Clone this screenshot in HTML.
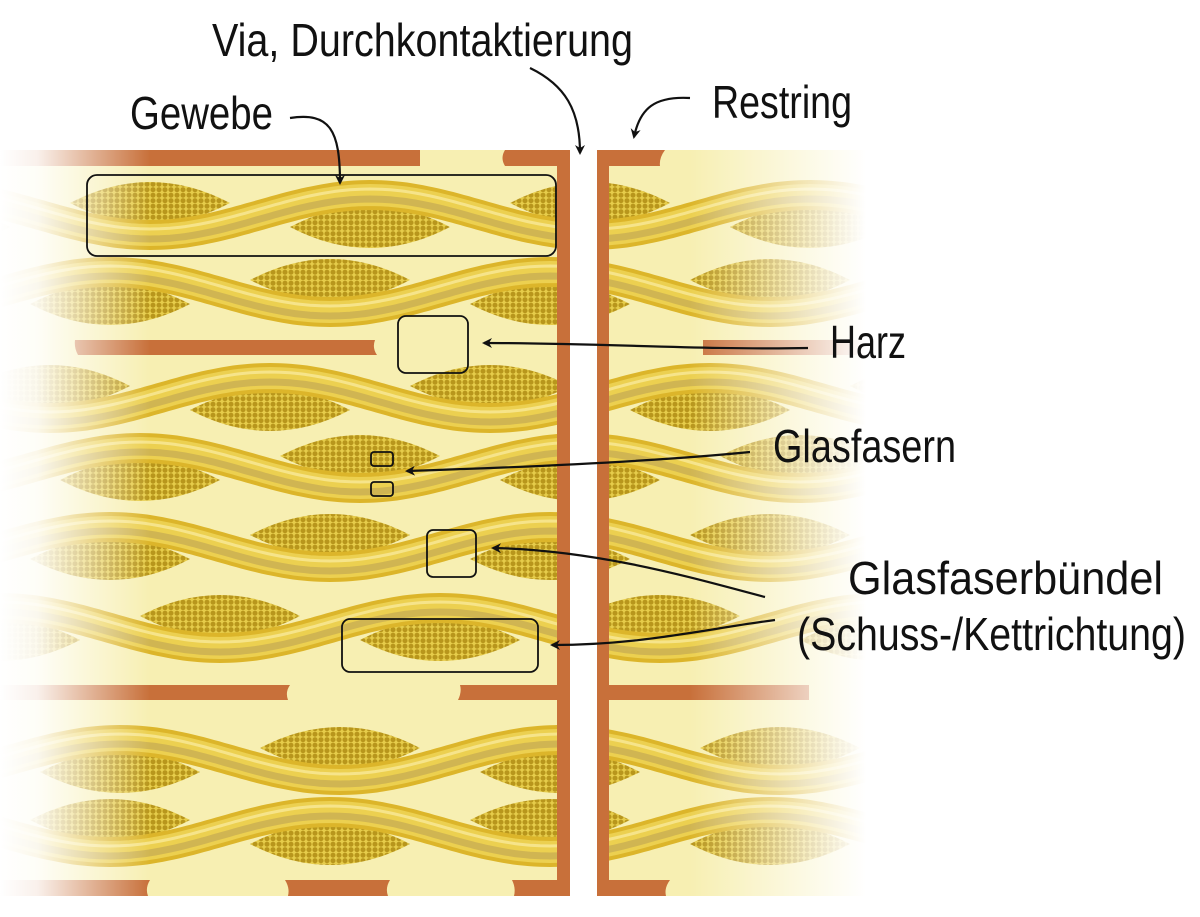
<!DOCTYPE html>
<html><head><meta charset="utf-8"><style>
html,body{margin:0;padding:0;background:#fff;}
svg{display:block}
text{font-family:"Liberation Sans Narrow","Liberation Sans",sans-serif;font-size:46px;fill:#111}
</style></head><body>
<svg id="s" width="1200" height="917" viewBox="0 0 1200 917" xmlns="http://www.w3.org/2000/svg">
<defs>
<pattern id="dots" width="6" height="5.5" patternUnits="userSpaceOnUse">
<rect width="6" height="5.5" fill="#e6cc4a"/>
<circle cx="3" cy="2.7" r="2.5" fill="#b8961c"/>
</pattern>
<linearGradient id="fl" x1="0" x2="1"><stop offset="0" stop-color="#fff" stop-opacity="1"/><stop offset="0.25" stop-color="#fff" stop-opacity="0.9"/><stop offset="1" stop-color="#fff" stop-opacity="0"/></linearGradient>
<linearGradient id="fr" x1="0" x2="1"><stop offset="0" stop-color="#fff" stop-opacity="0"/><stop offset="0.8" stop-color="#fff" stop-opacity="1"/><stop offset="1" stop-color="#fff" stop-opacity="1"/></linearGradient>
<marker id="ar" markerWidth="10" markerHeight="10" refX="8" refY="5" orient="auto" markerUnits="userSpaceOnUse" viewBox="0 0 10 10"><path d="M0,0 L10,5 L0,10 L3,5 z" fill="#111"/></marker>
<clipPath id="cl"><rect x="0" y="166" width="557" height="714"/></clipPath>
<clipPath id="cr"><rect x="609" y="166" width="300" height="714"/></clipPath>
</defs>
<rect x="0" y="150" width="557" height="746" fill="#f7efb2"/>
<rect x="609" y="150" width="300" height="746" fill="#f7efb2"/>
<g id="fabL" clip-path="url(#cl)"></g>
<g id="fabR" clip-path="url(#cr)"></g>
<g fill="#c8703a">
<rect x="0" y="150" width="420" height="16"/><path d="M505,150 H570 V166 H505 Q500,158 505,150z"/>
<rect x="557" y="150" width="13" height="746"/>
<rect x="597" y="150" width="12" height="746"/>
<path d="M597,150 H665 Q659,158 660,166 H597z"/>
<path d="M75,340 H375 Q372,348 377,355 H78 Q74,348 75,340z"/>
<rect x="703" y="340" width="200" height="15"/>
<path d="M0,685 H290 Q285,692 288,700 H0z"/><path d="M460,685 H570 V700 H458 Q462,692 460,685z"/>
<rect x="609" y="685" width="200" height="15"/>
<path d="M0,880 H150 Q145,888 148,896 H0z"/><path d="M285,880 H390 Q385,888 388,896 H288 Q290,888 285,880z"/>
<path d="M512,880 H570 V896 H514 Q516,888 512,880z"/>
<path d="M609,880 H670 Q664,888 666,896 H609z"/>
</g>
<rect x="0" y="140" width="150" height="770" fill="url(#fl)"/>
<rect x="690" y="140" width="220" height="770" fill="url(#fr)"/>
<g fill="none" stroke="#111" stroke-width="1.8">
<rect x="87" y="175" width="469" height="81" rx="10"/>
<rect x="398" y="316" width="70" height="57" rx="8"/>
<rect x="371" y="452" width="22" height="14" rx="3"/>
<rect x="371" y="482" width="22" height="14" rx="3"/>
<rect x="427" y="530" width="49" height="47" rx="6"/>
<rect x="342" y="619" width="196" height="53" rx="8"/>
</g>
<g fill="none" stroke="#111" stroke-width="2.2" marker-end="url(#ar)">
<path d="M290,118 C330,112 340,130 340,183"/>
<path d="M530,68 C565,85 580,110 580,153"/>
<path d="M690,98 C655,96 640,108 634,137"/>
<path d="M808,348 C700,350 600,343 484,343"/>
<path d="M750,452 C650,462 500,468 407,471"/>
<path d="M765,597 C700,580 600,550 493,548"/>
<path d="M775,620 C700,630 640,645 552,645"/>
</g>
<text x="212" y="56" textLength="421" lengthAdjust="spacingAndGlyphs">Via, Durchkontaktierung</text>
<text x="712" y="118" textLength="140" lengthAdjust="spacingAndGlyphs">Restring</text>
<text x="130" y="129" textLength="143" lengthAdjust="spacingAndGlyphs">Gewebe</text>
<text x="830" y="358" textLength="76" lengthAdjust="spacingAndGlyphs">Harz</text>
<text x="773" y="462" textLength="183" lengthAdjust="spacingAndGlyphs">Glasfasern</text>
<text x="848" y="594" textLength="315" lengthAdjust="spacingAndGlyphs">Glasfaserbündel</text>
<text x="797" y="650" textLength="389" lengthAdjust="spacingAndGlyphs">(Schuss-/Kettrichtung)</text>
</svg>
<script>
(function(){
var NS="http://www.w3.org/2000/svg";
var layers=[[215,150],[292,330],[398,490],[468,360],[547,330],[628,220],[760,340],[832,110]];
var P=440,A=20;
function el(t,a,p){var e=document.createElementNS(NS,t);for(var k in a)e.setAttribute(k,a[k]);p.appendChild(e);return e;}
function build(g,x0,x1){
 layers.forEach(function(L){
  var c=L[0],lo=L[1];
  for(var k=-3;k<6;k++){
   var lx=lo+k*P/2; if(lx<x0-100||lx>x1+100)continue;
   var low=(k%2===0);
   var w=160,h=21;
   var ly = low ? c - 12 : c + 12;
   var d="M"+(lx-w/2)+","+ly+" Q"+lx+","+(ly-2*h)+" "+(lx+w/2)+","+ly+" Q"+lx+","+(ly+2*h)+" "+(lx-w/2)+","+ly+"z";
   el("path",{d:d,fill:"url(#dots)"},g);
  }
  var pts=[];
  for(var x=x0;x<=x1;x+=5){var y=c+A*Math.cos(2*Math.PI*(x-lo)/P);pts.push(x+","+y.toFixed(1));}
  var d="M"+pts.join(" L");
  el("path",{d:d,fill:"none",stroke:"#dcb52a","stroke-width":30},g);
  el("path",{d:d,fill:"none",stroke:"#ecd050","stroke-width":22},g);
  el("path",{d:d,fill:"none",stroke:"#c9ae52","stroke-width":7,"stroke-opacity":0.8,transform:"translate(0,4)"},g);
  el("path",{d:d,fill:"none",stroke:"#f6e48a","stroke-width":3,transform:"translate(0,-6)"},g);
 });
}
build(document.getElementById("fabL"),-20,580);
build(document.getElementById("fabR"),590,920);
})();
</script>
</body></html>
